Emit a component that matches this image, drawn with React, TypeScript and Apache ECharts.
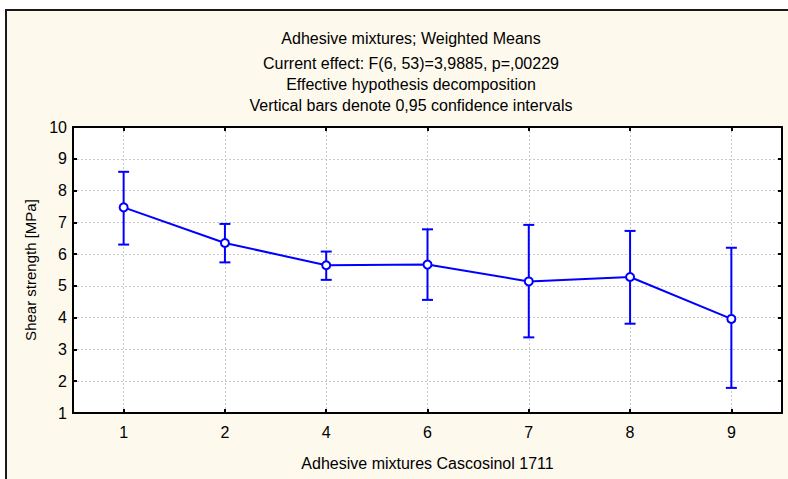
import React, { useEffect, useRef } from "react";
import * as echarts from "echarts";

const categories = ["1", "2", "4", "6", "7", "8", "9"];
const means = [7.47, 6.35, 5.65, 5.67, 5.14, 5.28, 3.96];
const lower = [6.3, 5.74, 5.19, 4.56, 3.38, 3.81, 1.79];
const upper = [8.59, 6.95, 6.08, 6.78, 6.92, 6.73, 6.2];
const titleLines = [
  "Adhesive mixtures; Weighted Means",
  "Current effect: F(6, 53)=3,9885, p=,00229",
  "Effective hypothesis decomposition",
  "Vertical bars denote 0,95 confidence intervals",
];
const xName = "Adhesive mixtures Cascosinol 1711";
const yName = "Shear strength [MPa]";

const FONT = "Liberation Sans, Arial, sans-serif";
const BLUE = "#0000ff";

export default function App() {
  const ref = useRef<HTMLDivElement>(null);
  useEffect(() => {
    if (!ref.current) return;
    const chart = echarts.init(ref.current, undefined, { renderer: "svg" });
    const errData = categories.map((c, i) => [i, lower[i], upper[i]]);
    const titleY = [38, 63, 84, 105];
    chart.setOption({
      animation: false,
      backgroundColor: "#ffffff",
      textStyle: { fontFamily: FONT },
      graphic: [
        {
          type: "rect",
          z: -10,
          silent: true,
          shape: { x: 6, y: 10, width: 800, height: 500 },
          style: { fill: "#fef9ed", stroke: "#1a1a1a", lineWidth: 2 },
        },
        ...titleLines.map((t, i) => ({
          type: "text",
          x: 411,
          y: titleY[i],
          style: {
            text: t,
            fill: "#000",
            font: `16px ${FONT}`,
            textAlign: "center",
            textVerticalAlign: "middle",
          },
        })),
      ],
      grid: {
        left: 73,
        right: 6,
        top: 127,
        bottom: 66,
        show: true,
        backgroundColor: "#ffffff",
        borderWidth: 0,
      },
      xAxis: [
        {
          type: "category",
          data: categories,
          boundaryGap: true,
          position: "bottom",
          name: xName,
          nameLocation: "middle",
          nameGap: 42,
          nameTextStyle: { color: "#000", fontSize: 16, fontFamily: FONT },
          axisLine: { show: true, lineStyle: { color: "#000", width: 2 } },
          axisTick: { show: true, inside: true, length: 4, alignWithLabel: true, lineStyle: { color: "#000", width: 2 } },
          axisLabel: { color: "#000", fontSize: 16, margin: 11, fontFamily: FONT },
          splitLine: { show: true, alignWithLabel: true, lineStyle: { color: "#c8c8c8", type: [2, 2], width: 1 } },
        },
        {
          type: "category",
          data: categories,
          boundaryGap: true,
          position: "top",
          axisLine: { show: true, lineStyle: { color: "#000", width: 2 } },
          axisTick: { show: true, inside: true, length: 4, alignWithLabel: true, lineStyle: { color: "#000", width: 2 } },
          axisLabel: { show: false },
          splitLine: { show: false },
        },
      ],
      yAxis: [
        {
          type: "value",
          min: 1,
          max: 10,
          interval: 1,
          position: "left",
          name: yName,
          nameLocation: "middle",
          nameGap: 35,
          nameTextStyle: { color: "#000", fontSize: 15, fontFamily: FONT },
          axisLine: { show: true, lineStyle: { color: "#000", width: 2 } },
          axisTick: { show: true, inside: true, length: 4, lineStyle: { color: "#000", width: 2 } },
          axisLabel: { color: "#000", fontSize: 16, margin: 6, fontFamily: FONT },
          splitLine: { show: true, lineStyle: { color: "#c8c8c8", type: [2, 2], width: 1 } },
        },
        {
          type: "value",
          min: 1,
          max: 10,
          interval: 1,
          position: "right",
          axisLine: { show: true, lineStyle: { color: "#000", width: 2 } },
          axisTick: { show: true, inside: true, length: 4, lineStyle: { color: "#000", width: 2 } },
          axisLabel: { show: false },
          splitLine: { show: false },
        },
      ],
      series: [
        {
          type: "custom",
          xAxisIndex: 0,
          yAxisIndex: 0,
          data: errData,
          z: 3,
          renderItem: (params: any, api: any) => {
            const x = api.value(0);
            const lo = api.coord([x, api.value(1)]);
            const hi = api.coord([x, api.value(2)]);
            const hw = 5.5;
            const style = { stroke: BLUE, lineWidth: 2, fill: "none" };
            return {
              type: "group",
              children: [
                { type: "line", shape: { x1: lo[0], y1: lo[1], x2: hi[0], y2: hi[1] }, style },
                { type: "line", shape: { x1: lo[0] - hw, y1: lo[1], x2: lo[0] + hw, y2: lo[1] }, style },
                { type: "line", shape: { x1: hi[0] - hw, y1: hi[1], x2: hi[0] + hw, y2: hi[1] }, style },
              ],
            };
          },
        },
        {
          type: "line",
          xAxisIndex: 0,
          yAxisIndex: 0,
          data: means,
          z: 5,
          symbol: "circle",
          symbolSize: 8,
          lineStyle: { color: BLUE, width: 2 },
          itemStyle: { color: "#ffffff", borderColor: BLUE, borderWidth: 2 },
        },
      ],
    });
    return () => chart.dispose();
  }, []);
  return <div ref={ref} style={{ width: 788, height: 479, position: "absolute", left: 0, top: 0 }} />;
}
